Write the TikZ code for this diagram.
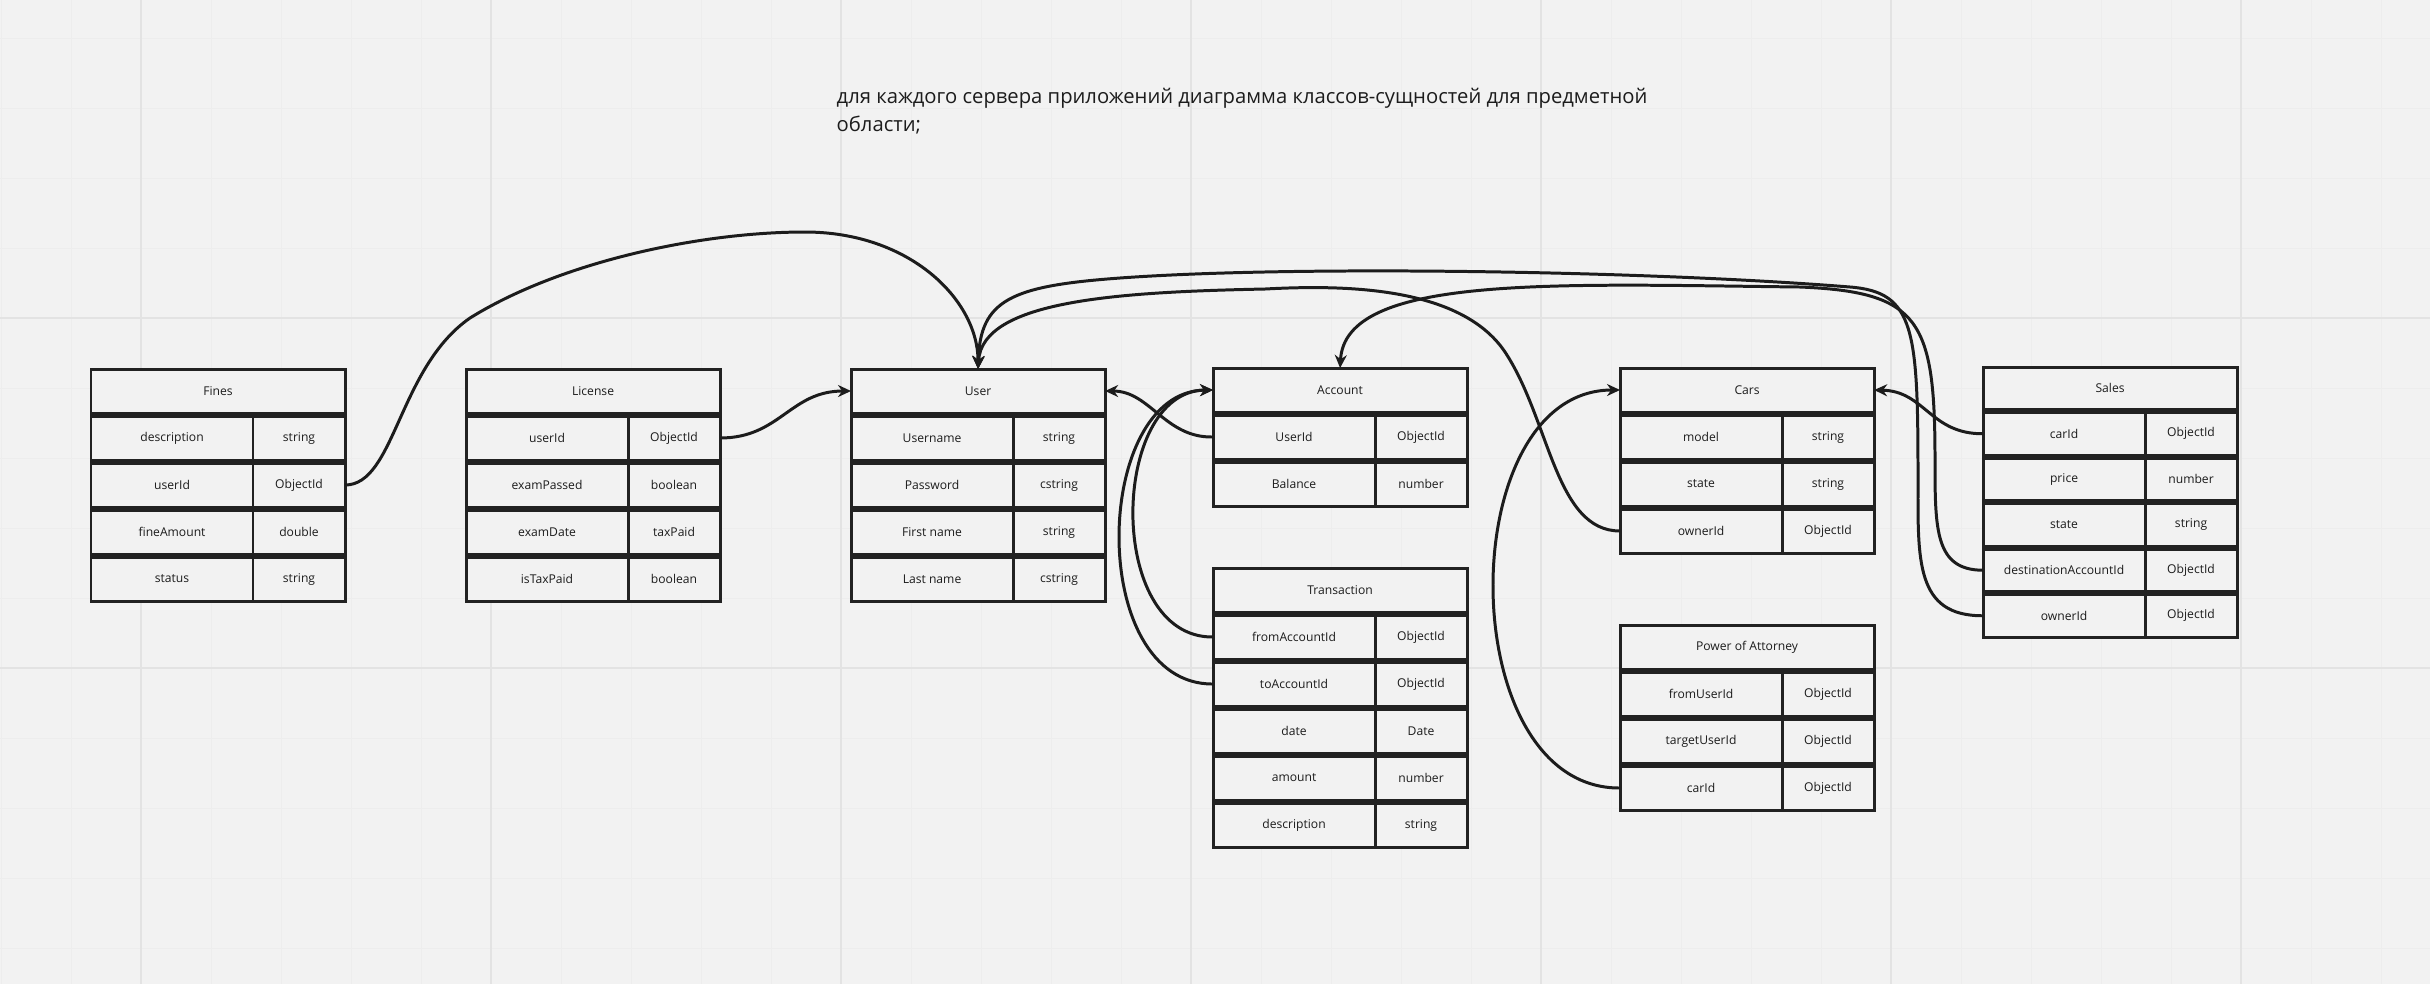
\documentclass[tikz,border=0pt]{standalone}
\usepackage{fontspec}
\setmainfont{Open Sans}
\usepackage{tikz}
\usetikzlibrary{arrows.meta}
\definecolor{paper}{HTML}{F2F2F2}
\definecolor{gridminor}{HTML}{EDEDED}
\definecolor{gridmajor}{HTML}{E3E3E3}
\definecolor{ink}{HTML}{1C1C1C}
\definecolor{frame}{HTML}{222222}
\newcommand{\cellfont}{\fontsize{3.45pt}{4pt}\selectfont}
\newcommand{\titlefont}{\fontsize{5.75pt}{7.7pt}\selectfont}
\tikzset{
  cell/.style     = {draw=frame,line width=0.85pt,fill=paper,text=ink,font=\cellfont,inner sep=0pt,outer sep=0pt},
  headcell/.style = {cell,minimum width=2.54cm},
  namecell/.style = {cell,minimum width=1.62cm},
  typecell/.style = {cell,minimum width=0.92cm},
  link/.style     = {ink,line width=0.85pt},
  linkarr/.style  = {link,-{Stealth[length=1.3mm,width=1.2mm]}}
}
% one entity: [row pitch] id, left x, top y, title, rows as name/type
\newcommand{\entitytable}[6][47]{%
  \node[headcell,anchor=north west,minimum height={(#1-3)*0.01cm}] (#2-h) at (#3,#4) {#5};
  \foreach \fn/\ft [count=\k] in {#6} {
    \node[namecell,anchor=north west,minimum height={(#1-3)*0.01cm}] (#2-n\k) at (#3,#4+#1*\k) {\fn};
    \node[typecell,anchor=north west,minimum height={(#1-3)*0.01cm}] (#2-t\k) at (#3+162,#4+#1*\k) {\ft};
  }%
}

\begin{document}
\begin{tikzpicture}[x=0.01cm,y=-0.01cm]
  \useasboundingbox (0,0) rectangle (2430,984);
  % --- board: paper and grid
  \fill[paper] (0,0) rectangle (2430,984);
  \foreach \gx in {1,71,...,2430} { \draw[gridminor,line width=0.25pt] (\gx,0) -- (\gx,984); }
  \foreach \gy in {38,108,...,984} { \draw[gridminor,line width=0.25pt] (0,\gy) -- (2430,\gy); }
  \foreach \gx in {141,491,...,2430} { \draw[gridmajor,line width=0.6pt] (\gx,0) -- (\gx,984); }
  \foreach \gy in {318,668} { \draw[gridmajor,line width=0.6pt] (0,\gy) -- (2430,\gy); }
  % --- heading
  \node[anchor=north west,font=\titlefont,text=ink,align=left,inner sep=0pt] (title) at (836,88)
       {для каждого сервера приложений диаграмма классов-сущностей для предметной\\области;};
  % --- entities
  \entitytable{fines}{91}{369}{Fines}{description/string, userId/ObjectId, fineAmount/double, status/string}
  \entitytable{license}{466}{369}{License}{userId/ObjectId, examPassed/boolean, examDate/taxPaid, isTaxPaid/boolean}
  \entitytable{user}{851}{369}{User}{Username/string, Password/cstring, First name/string, Last name/cstring}
  \entitytable{account}{1213}{368}{Account}{UserId/ObjectId, Balance/number}
  \entitytable{trans}{1213}{568}{Transaction}{fromAccountId/ObjectId, toAccountId/ObjectId, date/Date, amount/number, description/string}
  \entitytable{cars}{1620}{368}{Cars}{model/string, state/string, ownerId/ObjectId}
  \entitytable{attorney}{1620}{625}{Power of Attorney}{fromUserId/ObjectId, targetUserId/ObjectId, carId/ObjectId}
  \entitytable[45.5]{sales}{1983}{367}{Sales}{carId/ObjectId, price/number, state/string, destinationAccountId/ObjectId, ownerId/ObjectId}
  % --- references into User
  \draw[linkarr] (fines-t2.east) .. controls (395,485) and (398,368) .. (470,318)
        .. controls (560,262) and (700,232) .. (805,232) .. controls (910,232) and (978,300) .. (user-h.north);
  \draw[linkarr] (license-t1.east) .. controls (780,438) and (790,391) .. (user-h.west);
  \draw[linkarr] (account-n1.west) .. controls (1165,438) and (1150,391) .. (user-h.east);
  \draw[linkarr] (cars-n3.west) .. controls (1555,531) and (1550,420) .. (1505,352)
        .. controls (1460,285) and (1340,285) .. (1265,289) .. controls (1120,292) and (982,300) .. (user-h.north);
  \draw[linkarr] (sales-n5.west) .. controls (1915,616) and (1918,560) .. (1918,480)
        .. controls (1918,330) and (1915,292) .. (1850,287) .. controls (1650,271) and (1300,265) .. (1120,278)
        .. controls (1010,286) and (980,300) .. (user-h.north);
  % --- references into Account
  \draw[linkarr] (trans-n1.west) .. controls (1105,638) and (1110,391) .. (account-h.west);
  \draw[linkarr] (trans-n2.west) .. controls (1086,685) and (1092,391) .. (account-h.west);
  \draw[linkarr] (sales-n4.west) .. controls (1935,570) and (1935,530) .. (1935,460)
        .. controls (1935,320) and (1920,292) .. (1800,287) .. controls (1550,284) and (1345,275) .. (account-h.north);
  % --- references into Cars
  \draw[linkarr] (sales-n1.west) .. controls (1930,434) and (1925,391) .. (cars-h.east);
  \draw[linkarr] (attorney-n3.west) .. controls (1452,789) and (1452,390) .. (cars-h.west);
\end{tikzpicture}
\end{document}
